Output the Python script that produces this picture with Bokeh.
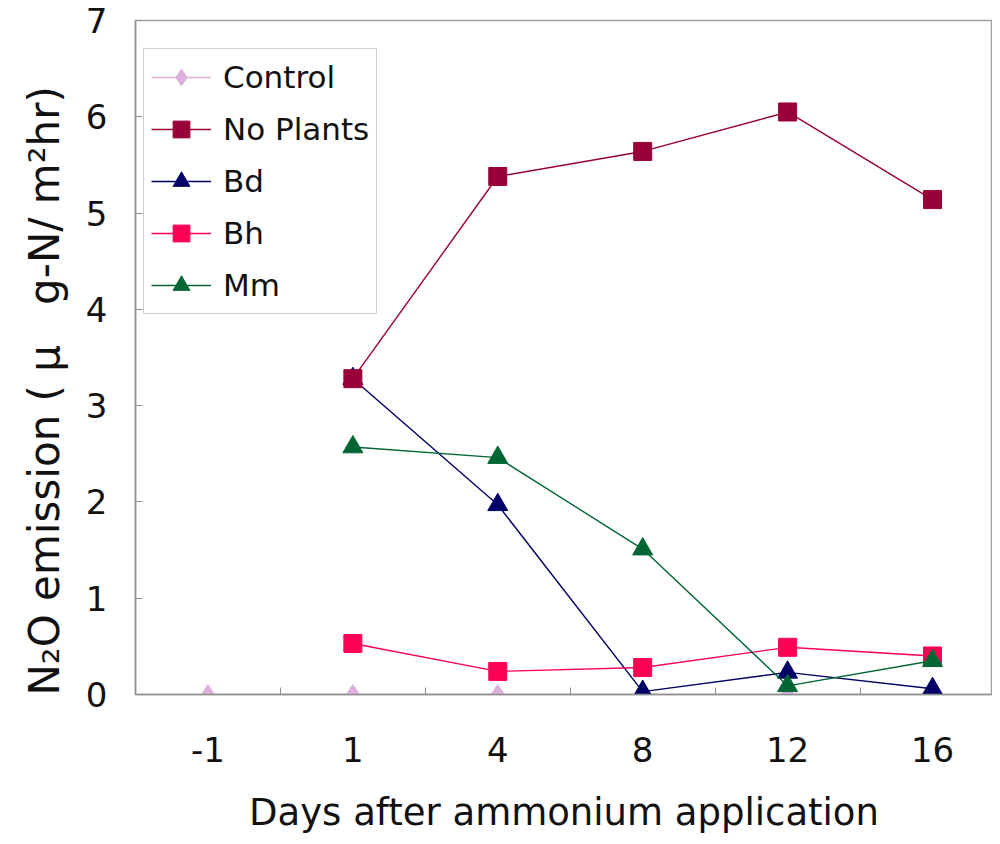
import math
from bokeh.plotting import figure
from bokeh.models import FixedTicker, Range1d, Legend, LegendItem
from bokeh.embed import file_html
from bokeh.resources import INLINE

days = ["-1", "1", "4", "8", "12", "16"]
nan = float("nan")
control = [0.0, 0.0, 0.0, 0.0, 0.0, 0.0]
no_plants = [nan, 3.28, 5.38, 5.64, 6.05, 5.14]
bd = [nan, 3.28, 1.97, 0.03, 0.23, 0.06]
bh = [nan, 0.53, 0.24, 0.28, 0.49, 0.40]
mm = [nan, 2.57, 2.46, 1.51, 0.09, 0.35]
y_ticks = [0, 1, 2, 3, 4, 5, 6, 7]

FONT = "DejaVu Sans"

p = figure(frame_width=857, frame_height=674, output_backend="svg",
           toolbar_location=None, x_range=Range1d(-0.5, 5.414),
           y_range=Range1d(0, 7), min_border_left=135, min_border_top=20,
           min_border_right=0, min_border_bottom=142)
p.xgrid.visible = False
p.ygrid.visible = False
p.outline_line_color = "#a0a0a0"
p.outline_line_width = 1.5
p.background_fill_color = "white"
p.border_fill_color = "white"

xs = list(range(len(days)))

series = [
    ("Control", control, "#DDB0DD", "diamond", 20),
    ("No Plants", no_plants, "#99003A", "square", 18),
    ("Bd", bd, "#000066", "triangle", 20),
    ("Bh", bh, "#FF0055", "square", 18),
    ("Mm", mm, "#006633", "triangle", 20),
]
draw_order = [0, 2, 1, 3, 4]

legend_items = {}
for idx in draw_order:
    name, vals, col, marker, size = series[idx]
    px = [x for x, v in zip(xs, vals) if not math.isnan(v)]
    py = [v for v in vals if not math.isnan(v)]
    r1 = p.line(px, py, line_color=col, line_width=1.4)
    r2 = p.scatter(px, py, marker=marker, size=size, fill_color=col,
                   line_color=col)
    legend_items[idx] = LegendItem(label=name, renderers=[r1, r2])

legend = Legend(items=[legend_items[i] for i in range(len(series))],
                location=(8, 380))
legend.label_text_font = FONT
legend.label_text_font_size = "31px"
legend.label_text_color = "#111111"
legend.glyph_width = 60
legend.glyph_height = 42
legend.label_height = 42
legend.spacing = 10
legend.padding = 7
legend.margin = 0
legend.label_standoff = 12
legend.border_line_color = "#a0a0a0"
legend.border_line_width = 1.5
legend.background_fill_alpha = 1.0
p.add_layout(legend)

# x axis
p.xaxis.ticker = FixedTicker(ticks=xs, minor_ticks=[i + 0.5 for i in xs])
p.xaxis.major_label_overrides = {i: d for i, d in zip(xs, days)}
p.xaxis.major_tick_line_color = None
p.xaxis.minor_tick_in = 7
p.xaxis.minor_tick_out = 0
p.xaxis.minor_tick_line_color = "#909090"
p.xaxis.axis_line_color = "#909090"
p.xaxis.axis_line_width = 1.5
p.xaxis.major_label_text_font = FONT
p.xaxis.major_label_text_font_size = "34px"
p.xaxis.major_label_text_color = "#111111"
p.xaxis.major_label_standoff = 36
p.xaxis.axis_label = "Days after ammonium application"
p.xaxis.axis_label_text_font = FONT
p.xaxis.axis_label_text_font_size = "37px"
p.xaxis.axis_label_text_font_style = "normal"
p.xaxis.axis_label_text_color = "#111111"
p.xaxis.axis_label_standoff = 26

# y axis
p.yaxis.ticker = FixedTicker(ticks=y_ticks)
p.yaxis.major_tick_in = 7
p.yaxis.major_tick_out = 0
p.yaxis.major_tick_line_color = "#909090"
p.yaxis.minor_tick_line_color = None
p.yaxis.axis_line_color = "#909090"
p.yaxis.axis_line_width = 1.5
p.yaxis.major_label_text_font = FONT
p.yaxis.major_label_text_font_size = "34px"
p.yaxis.major_label_text_color = "#111111"
p.yaxis.major_label_standoff = 28
NB = "\u00a0"
p.yaxis.axis_label = ("N\u2082O emission (" + NB + "\u03bc" + NB * 3 +
                      "g-N/ m\u00b2hr)" + NB * 5)
p.yaxis.axis_label_text_font = FONT
p.yaxis.axis_label_text_font_size = "42px"
p.yaxis.axis_label_text_font_style = "normal"
p.yaxis.axis_label_text_color = "#111111"
p.yaxis.axis_label_standoff = 14

open("out.html", "w").write(file_html(p, INLINE))
